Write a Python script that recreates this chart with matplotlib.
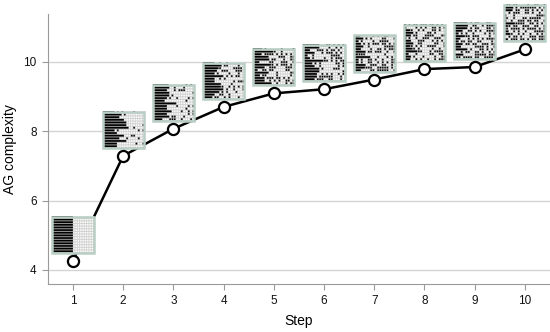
import numpy as np
import matplotlib.pyplot as plt
from matplotlib.patches import Rectangle

plt.rcParams['font.family'] = ['Liberation Sans', 'DejaVu Sans']

# data
steps = [1, 2, 3, 4, 5, 6, 7, 8, 9, 10]
complexity = [4.27, 7.29, 8.07, 8.70, 9.09, 9.21, 9.49, 9.79, 9.85, 10.36]

# look of the little matrix thumbnails above each point (estimated)
black_frac = [0.50, 0.46, 0.40, 0.34, 0.30, 0.28, 0.20, 0.16, 0.16, 0.04]
dot_density = [0.0, 0.12, 0.20, 0.32, 0.40, 0.42, 0.46, 0.48, 0.50, 0.52]

NR, NC, CELL = 14, 18, 3


def hash01(a, b, c):
    # deterministic texture, not data
    v = np.sin(a * 12.9898 + b * 78.233 + c * 37.719) * 43758.5453
    return v - np.floor(v)


def thumb(k, bf, dens):
    img = np.ones((NR * CELL, NC * CELL, 3))
    for i in range(NR):
        jag = 0 if k == 0 else int(round((hash01(i, 0.5, k) - 0.5) * 6))
        nblack = max(0, int(round(bf * NC)) + jag)
        for j in range(NC):
            r0, c0 = i * CELL, j * CELL
            if j < nblack:
                img[r0:r0 + CELL, c0:c0 + CELL] = 0.0
                img[r0 + CELL - 1, c0:c0 + CELL] = 0.7
            else:
                on = hash01(i, j, k) < dens
                img[r0:r0 + CELL, c0:c0 + CELL] = 0.0 if on else 1.0
                img[r0 + CELL - 1, c0:c0 + CELL] = 0.8
                img[r0:r0 + CELL, c0 + CELL - 1] = 0.8
    return img


fig = plt.figure(figsize=(5.5, 3.32), dpi=100)
ax = fig.add_axes([0.087, 0.145, 0.913, 0.813])

ax.plot(steps, complexity, color='black', lw=1.8, zorder=3)
ax.plot(steps, complexity, 'o', ms=8, mfc='white', mec='black', mew=1.6, zorder=5)

w, h, gap = 0.41, 1.04, 0.23
for k, (x, y) in enumerate(zip(steps, complexity)):
    ext = [x - w, x + w, y + gap, y + gap + h]
    ax.imshow(thumb(k, black_frac[k], dot_density[k]), extent=ext, aspect='auto',
              interpolation='bilinear', zorder=4, clip_on=False)
    ax.add_patch(Rectangle((ext[0], ext[2]), 2 * w, h, fill=False, ec='#b9cfc5',
                           lw=1.8, zorder=4.5, clip_on=False))

ax.set_xlim(0.5, 10.5)
ax.set_ylim(3.6, 11.38)
ax.set_xticks(steps)
ax.set_yticks([4, 6, 8, 10])
ax.yaxis.grid(True, color='#d4d4d4', lw=1)
ax.set_axisbelow(True)
for s in ['top', 'right']:
    ax.spines[s].set_visible(False)
for s in ['left', 'bottom']:
    ax.spines[s].set_color('#9a9a9a')
ax.tick_params(colors='#9a9a9a', labelcolor='#111111', labelsize=8.5, length=4, pad=4)
ax.set_xlabel('Step', fontsize=10, labelpad=5)
ax.set_ylabel('AG complexity', fontsize=10, labelpad=5)

fig.savefig('out.png', dpi=100)
